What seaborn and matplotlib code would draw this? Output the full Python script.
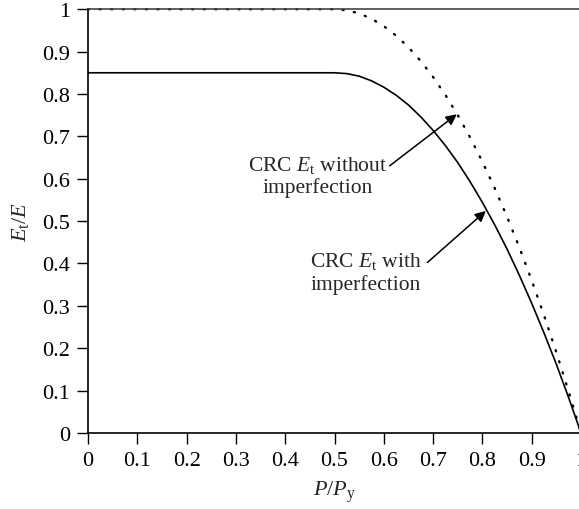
import matplotlib
matplotlib.use("Agg")
import matplotlib.pyplot as plt
import seaborn as sns
import pandas as pd

# Data
p_ratio = [0.0, 0.5, 0.525, 0.55, 0.575, 0.6, 0.625, 0.65, 0.675, 0.7, 0.725,
           0.75, 0.775, 0.8, 0.825, 0.85, 0.875, 0.9, 0.925, 0.95, 0.975, 1.0]
et_without = [1.0, 1.0, 0.9975, 0.99, 0.9775, 0.96, 0.9375, 0.91, 0.8775, 0.84, 0.7975,
              0.75, 0.6975, 0.64, 0.5775, 0.51, 0.4375, 0.36, 0.2775, 0.19, 0.0975, 0.0]
et_with = [0.85, 0.85, 0.848, 0.842, 0.831, 0.816, 0.797, 0.774, 0.746, 0.714, 0.678,
           0.638, 0.593, 0.544, 0.491, 0.434, 0.372, 0.306, 0.236, 0.162, 0.083, 0.0]
x_ticks = [0, 0.1, 0.2, 0.3, 0.4, 0.5, 0.6, 0.7, 0.8, 0.9, 1.0]
x_ticklabels = ["0", "0.1", "0.2", "0.3", "0.4", "0.5", "0.6", "0.7", "0.8", "0.9", "1"]
y_ticks = [0, 0.1, 0.2, 0.3, 0.4, 0.5, 0.6, 0.7, 0.8, 0.9, 1.0]
y_ticklabels = ["0", "0.1", "0.2", "0.3", "0.4", "0.5", "0.6", "0.7", "0.8", "0.9", "1"]

sns.set_style("ticks")
plt.rcParams["font.family"] = ["Liberation Serif", "DejaVu Serif"]
plt.rcParams["mathtext.fontset"] = "custom"
plt.rcParams["mathtext.rm"] = "Liberation Serif"
plt.rcParams["mathtext.it"] = "Liberation Serif:italic"
plt.rcParams["font.size"] = 16

df = pd.DataFrame({"p": p_ratio, "without": et_without, "with": et_with})

fig = plt.figure(figsize=(5.79, 5.10), dpi=100)
ax = fig.add_axes([0.152, 0.149, 0.8515, 0.831])

sns.lineplot(data=df, x="p", y="with", ax=ax, color="black", lw=1.2, sort=False)
sns.lineplot(data=df, x="p", y="without", ax=ax, color="black", lw=1.7,
             linestyle=(0, (0.5, 4.4)), dash_capstyle="round", sort=False, clip_on=False)

ax.set_xlim(0, 1)
ax.set_ylim(0, 1)
ax.set_xticks(x_ticks)
ax.set_xticklabels(x_ticklabels)
ax.set_yticks(y_ticks)
ax.set_yticklabels(y_ticklabels)
ax.tick_params(direction="out", length=8, width=1.0, colors="black", labelsize=16, pad=5)

for s in ["left", "bottom"]:
    ax.spines[s].set_linewidth(1.2)
    ax.spines[s].set_color("black")
ax.spines["right"].set_visible(False)
ax.spines["top"].set_visible(True)
ax.spines["top"].set_color("#444444")
ax.spines["top"].set_linewidth(1.2)

ax.set_xlabel(r"$P/P_\mathrm{y}$", fontsize=16, labelpad=6)
ax.set_ylabel(r"$E_\mathrm{t}/E$", fontsize=16, labelpad=8)

ax.annotate("CRC $E_\\mathrm{t}$ without\nimperfection", xy=(0.748, 0.752), xytext=(0.465, 0.608),
            ha="center", va="center", fontsize=15.5, linespacing=1.15,
            arrowprops=dict(arrowstyle="-|>", color="black", lw=1.1, mutation_scale=16,
                            shrinkA=0, shrinkB=0, patchA=None, relpos=(1.02, 0.72)))
ax.annotate("CRC $E_\\mathrm{t}$ with\nimperfection", xy=(0.807, 0.524), xytext=(0.564, 0.38),
            ha="center", va="center", fontsize=15.5, linespacing=1.15,
            arrowprops=dict(arrowstyle="-|>", color="black", lw=1.1, mutation_scale=16,
                            shrinkA=0, shrinkB=0, patchA=None, relpos=(1.05, 0.72)))

fig.savefig("out.png", dpi=100)
